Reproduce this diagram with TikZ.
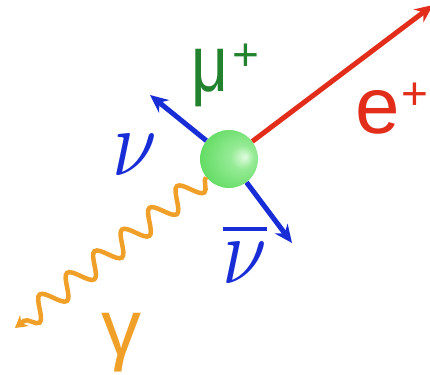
\documentclass[tikz,border=0pt]{standalone}
\usepackage{fontspec}
\setmainfont{Liberation Sans}
\usepackage{tikz}
\usetikzlibrary{arrows.meta,decorations.pathmorphing}
\definecolor{positronred}{RGB}{225,45,25}
\definecolor{nublue}{RGB}{25,45,215}
\definecolor{photonorange}{RGB}{240,160,40}
\definecolor{muongreen}{RGB}{35,130,45}
\definecolor{ballhi}{RGB}{225,252,225}
\definecolor{ballmid}{RGB}{150,235,150}
\definecolor{balllo}{RGB}{100,220,100}
\pgfdeclareradialshading{muonball}{\pgfpoint{14bp}{2bp}}{color(0bp)=(ballhi); color(10bp)=(ballmid); color(30bp)=(balllo); color(50bp)=(balllo)}

\begin{document}
\begin{tikzpicture}[>=Stealth,x=1pt,y=-1pt,
  lepton/.style={line width=5pt,-{Stealth[length=18pt,width=16pt]}},
  photon/.style={line width=4.5pt,photonorange,-{Stealth[length=12pt,width=14pt]},
    decorate,decoration={snake,amplitude=11pt,segment length=35pt,post=lineto,post length=8pt}},
  lbl/.style={inner sep=0pt}]
  \useasboundingbox (0,0) rectangle (430,374);
  \node[circle,minimum size=58pt,inner sep=0pt,shading=muonball] (mu) at (229,159) {};
  \coordinate (eend) at (433,5);
  \coordinate (nuend) at (150,95);
  \coordinate (nubarend) at (292,243);
  \coordinate (gend) at (15,328);
  \draw[lepton,positronred] (mu) -- (eend);
  \draw[lepton,nublue] (mu) -- (nuend);
  \draw[lepton,nublue] (mu) -- (nubarend);
  \draw[photon] (mu) -- (gend);
  \node[lbl,anchor=base west,muongreen] (mulabel) at (191,92)
    {\fontsize{80}{80}\selectfont\scalebox{0.8}[1]{μ}\kern4pt\raisebox{21pt}{\fontsize{46}{46}\selectfont +}};
  \node[lbl,anchor=base west,positronred] (elabel) at (355,134)
    {\fontsize{80}{80}\selectfont e\kern2pt\raisebox{24pt}{\fontsize{46}{46}\selectfont +}};
  \node[lbl,anchor=base west,nublue] (nulabel) at (112,175)
    {\scalebox{8}[9.5]{$\nu$}};
  \node[lbl,anchor=base,nublue] (nubarlabel) at (245,283)
    {\scalebox{8}[9.5]{$\overline{\nu}$}};
  \node[lbl,anchor=base west,photonorange] (gammalabel) at (101,355)
    {\fontsize{80}{80}\selectfont γ};
\end{tikzpicture}
\end{document}
